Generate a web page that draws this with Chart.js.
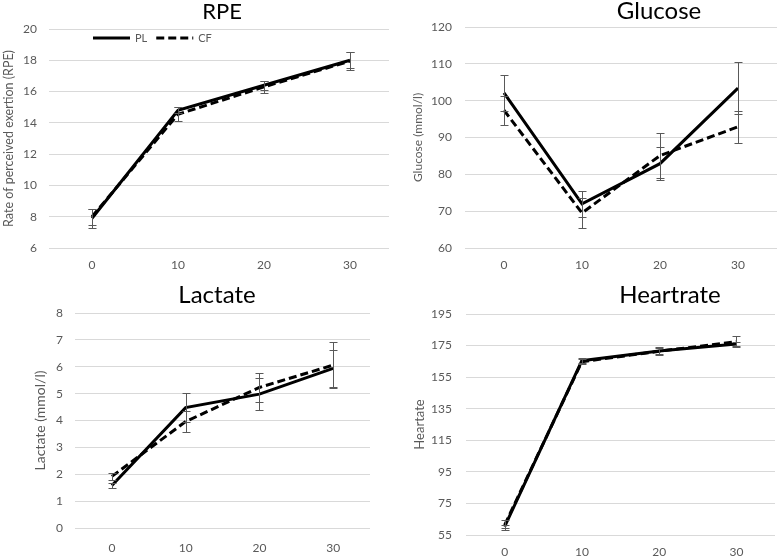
<!DOCTYPE html>
<html>
<head>
<meta charset="utf-8">
<script src="https://cdn.jsdelivr.net/npm/chart.js@4.4.1/dist/chart.umd.min.js"></script>
<style>
  body { margin: 0; background: #fff; }
  #wrap { position: relative; width: 778px; height: 557px; overflow: hidden; }
  .panel { position: absolute; overflow: hidden; }
</style>
</head>
<body>
<div id="wrap">
  <div class="panel" style="left:0;top:0;width:389px;height:280px"><canvas id="rpeChart"></canvas></div>
  <div class="panel" style="left:389px;top:0;width:389px;height:280px"><canvas id="glucoseChart"></canvas></div>
  <div class="panel" style="left:0;top:280px;width:389px;height:277px"><canvas id="lactateChart"></canvas></div>
  <div class="panel" style="left:389px;top:280px;width:389px;height:277px"><canvas id="hrChart"></canvas></div>
</div>
<script>
"use strict"
// time points (min)
var times = ["0", "10", "20", "30"];

// RPE
var rpePL = [7.9, 14.8, 16.4, 18.0];
var rpeCF = [8.0, 14.55, 16.3, 17.95];
var rpePLsd = [0.6, 0.2, 0.3, 0.5];
var rpeCFsd = [0.5, 0.45, 0.4, 0.55];

// glucose
var gluPL = [102.1, 72.0, 82.9, 103.4];
var gluCF = [97.4, 69.5, 85.1, 92.9];
var gluPLsd = [5.0, 3.6, 4.5, 7.0];
var gluCFsd = [4.0, 4.0, 6.0, 4.4];

// lactate
var lacPL = [1.58, 4.48, 4.98, 5.94];
var lacCF = [1.92, 3.96, 5.23, 6.06];
var lacPLsd = [0.1, 0.55, 0.6, 0.7];
var lacCFsd = [0.12, 0.4, 0.55, 0.86];

// heart rate
var hrPL = [60.3, 165.4, 171.6, 176.0];
var hrCF = [61.3, 164.8, 171.4, 177.5];
var hrPLsd = [1.0, 1.5, 2.3, 1.0];
var hrCFsd = [3.2, 1.5, 2.0, 3.5];

var grey = "#595959";
var fontFam = "Lato, 'Open Sans', sans-serif";

// draws the vertical error bars from each dataset's "sd" array
var errorBarPlugin = {
  id: "errorBars",
  afterDatasetsDraw: function(chart) {
    var ctx = chart.ctx, y = chart.scales.y;
    ctx.save();
    ctx.strokeStyle = grey;
    ctx.lineWidth = 1;
    chart.data.datasets.forEach(function(ds, i) {
      if (!ds.sd) return;
      chart.getDatasetMeta(i).data.forEach(function(pt, j) {
        var x = Math.round(pt.x) + 0.5;
        var top = Math.round(y.getPixelForValue(ds.data[j] + ds.sd[j])) + 0.5;
        var bot = Math.round(y.getPixelForValue(ds.data[j] - ds.sd[j])) + 0.5;
        ctx.beginPath();
        ctx.moveTo(x, top); ctx.lineTo(x, bot);
        ctx.moveTo(x - 4, top); ctx.lineTo(x + 4, top);
        ctx.moveTo(x - 4, bot); ctx.lineTo(x + 4, bot);
        ctx.stroke();
      });
    });
    ctx.restore();
  }
};

// panel title at a fixed spot, and the small in-plot legend (RPE only)
var panelTitlePlugin = {
  id: "panelTitle",
  afterDraw: function(chart, args, opts) {
    var ctx = chart.ctx;
    ctx.save();
    ctx.fillStyle = "#000";
    ctx.font = opts.size + "px " + fontFam;
    ctx.textAlign = "center";
    ctx.textBaseline = "middle";
    ctx.fillText(opts.text, opts.x, opts.y);
    if (opts.legend) {
      var lx = opts.legend[0], ly = opts.legend[1];
      ctx.font = "11px " + fontFam;
      ctx.textAlign = "left";
      ctx.fillStyle = grey;
      ctx.lineWidth = 3;
      ctx.strokeStyle = "#000";
      chart.data.datasets.forEach(function(ds) {
        ctx.setLineDash(ds.borderDash || []);
        ctx.beginPath();
        ctx.moveTo(lx, ly); ctx.lineTo(lx + 37, ly);
        ctx.stroke();
        ctx.fillText(ds.label, lx + 42, ly + 0.5);
        lx += 42 + ctx.measureText(ds.label).width + 9;
      });
    }
    ctx.restore();
  }
};

function makePanel(id, c) {
  var cv = document.getElementById(id);
  cv.width = c.width;
  cv.height = c.height;
  return new Chart(cv, {
    type: "line",
    data: {
      labels: times,
      datasets: [
        { label: "PL", data: c.pl, sd: c.plSd, borderColor: "#000", borderWidth: 3,
          pointRadius: 0, tension: 0, fill: false },
        { label: "CF", data: c.cf, sd: c.cfSd, borderColor: "#000", borderWidth: 3,
          borderDash: [8, 4], pointRadius: 0, tension: 0, fill: false }
      ]
    },
    options: {
      responsive: false,
      animation: false,
      layout: { padding: { top: c.plotTop, right: c.width - c.plotRight, left: 0, bottom: 0 } },
      scales: {
        x: {
          type: "category",
          offset: true,
          grid: { display: false, drawTicks: false },
          border: { display: false },
          ticks: { color: grey, font: { family: fontFam, size: 12 }, padding: c.xPad, maxRotation: 0 },
          afterFit: function(s) { s.height = c.height - c.plotBottom; }
        },
        y: {
          min: c.yMin, max: c.yMax,
          grid: { color: "#d9d9d9", lineWidth: 1, drawTicks: false },
          border: { display: false },
          ticks: { stepSize: c.yStep, color: grey, font: { family: fontFam, size: 12 }, padding: c.yPad },
          title: { display: true, text: c.yLabel, color: grey,
                   font: { family: fontFam, size: c.yLabelSize }, padding: { top: c.yLabelPad, bottom: 0 } },
          afterFit: function(s) { s.width = c.plotLeft; }
        }
      },
      plugins: {
        legend: { display: false },
        tooltip: { enabled: false },
        panelTitle: { text: c.title, x: c.titleX, y: c.titleY, size: c.titleSize, legend: c.legend }
      }
    },
    plugins: [errorBarPlugin, panelTitlePlugin]
  });
}

makePanel("rpeChart", {
  width: 394, height: 280, plotLeft: 49, plotRight: 393, plotTop: 29, plotBottom: 248,
  yMin: 6, yMax: 20, yStep: 2, yPad: 12, xPad: 10,
  yLabel: "Rate of perceived exertion (RPE)", yLabelSize: 12.5, yLabelPad: 1,
  title: "RPE", titleX: 222, titleY: 12, titleSize: 22,
  legend: [93, 38],
  pl: rpePL, cf: rpeCF, plSd: rpePLsd, cfSd: rpeCFsd
});

makePanel("glucoseChart", {
  width: 389, height: 280, plotLeft: 76, plotRight: 388, plotTop: 27, plotBottom: 248,
  yMin: 60, yMax: 120, yStep: 10, yPad: 13, xPad: 10,
  yLabel: "Glucose (mmol/l)", yLabelSize: 12, yLabelPad: 22,
  title: "Glucose", titleX: 270, titleY: 11, titleSize: 24,
  pl: gluPL, cf: gluCF, plSd: gluPLsd, cfSd: gluCFsd
});

makePanel("lactateChart", {
  width: 389, height: 277, plotLeft: 75, plotRight: 370, plotTop: 33, plotBottom: 248,
  yMin: 0, yMax: 8, yStep: 1, yPad: 12, xPad: 13,
  yLabel: "Lactate (mmol/l)", yLabelSize: 14, yLabelPad: 32,
  title: "Lactate", titleX: 217, titleY: 15, titleSize: 24,
  pl: lacPL, cf: lacCF, plSd: lacPLsd, cfSd: lacCFsd
});

makePanel("hrChart", {
  width: 389, height: 277, plotLeft: 77, plotRight: 386, plotTop: 34, plotBottom: 255,
  yMin: 55, yMax: 195, yStep: 20, yPad: 14, xPad: 10,
  yLabel: "Heartate", yLabelSize: 13, yLabelPad: 23,
  title: "Heartrate", titleX: 281, titleY: 15, titleSize: 24,
  pl: hrPL, cf: hrCF, plSd: hrPLsd, cfSd: hrCFsd
});
</script>
</body>
</html>
